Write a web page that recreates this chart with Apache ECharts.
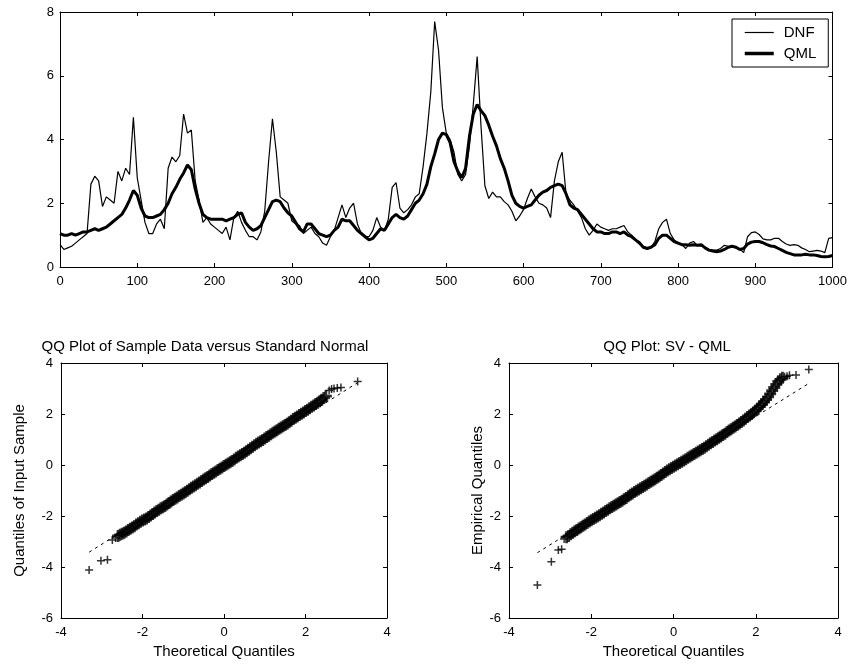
<!DOCTYPE html>
<html>
<head>
<meta charset="utf-8">
<script src="https://cdn.jsdelivr.net/npm/echarts@6/dist/echarts.min.js"></script>
<style>html,body{margin:0;padding:0;background:#fff;}#c{width:850px;height:664px;}</style>
</head>
<body>
<div id="c"></div>
<script>
// ---- Top panel: volatility series, sampled every 5 observations ----
const T_STEP = 5;
const dnf = [
0.7,0.55,0.6,0.65,0.75,0.85,0.95,1.05,2.6,2.85,2.7,1.9,2.2,2.1,2.0,3.0,2.7,3.1,2.9,4.7,
2.8,2.1,1.4,1.05,1.05,1.35,1.5,1.2,3.1,3.45,3.3,3.5,4.8,4.2,4.3,2.7,2.1,1.4,1.55,1.35,
1.25,1.15,1.05,1.25,0.85,1.55,1.75,1.4,1.15,0.95,0.95,0.85,1.1,1.75,3.3,4.65,3.6,2.2,2.1,2.0,
1.45,1.35,1.3,1.05,1.15,1.25,1.05,0.95,0.75,0.68,0.95,1.15,1.55,1.95,1.55,1.85,2.0,1.35,1.05,0.95,
0.95,1.15,1.55,1.25,1.15,1.5,2.5,2.65,1.85,1.7,1.8,1.95,2.2,2.3,3.15,4.2,5.5,7.7,6.8,5.0,
4.2,4.0,3.6,2.9,2.7,2.9,3.8,5.1,6.6,4.4,2.55,2.15,2.35,2.2,2.2,2.05,1.95,1.75,1.45,1.6,
1.8,2.15,2.45,2.2,2.0,1.95,1.85,1.55,2.7,3.3,3.6,2.3,2.1,1.95,1.75,1.55,1.2,1.0,1.15,1.35,
1.25,1.2,1.15,1.2,1.2,1.25,1.3,1.1,1.0,0.85,0.8,0.65,0.6,0.62,0.8,1.2,1.4,1.5,1.05,0.85,
0.75,0.7,0.58,0.75,0.8,0.68,0.65,0.62,0.55,0.53,0.53,0.58,0.68,0.65,0.64,0.6,0.56,0.45,0.95,1.08,
1.1,1.02,0.88,0.85,0.85,0.9,0.9,0.8,0.72,0.68,0.7,0.68,0.6,0.55,0.48,0.5,0.52,0.5,0.45,0.9,
0.92];
const qml = [
1.05,1.0,1.0,1.05,1.0,1.05,1.1,1.1,1.15,1.2,1.15,1.2,1.25,1.35,1.45,1.55,1.65,1.85,2.1,2.4,
2.25,1.85,1.6,1.55,1.55,1.6,1.65,1.8,2.0,2.3,2.5,2.75,2.95,3.2,3.05,2.45,2.0,1.65,1.55,1.5,
1.5,1.5,1.5,1.45,1.5,1.55,1.65,1.7,1.4,1.25,1.15,1.2,1.3,1.55,1.8,2.05,2.1,2.05,1.85,1.7,
1.6,1.4,1.2,1.1,1.35,1.35,1.2,1.05,1.0,0.95,1.0,1.15,1.25,1.5,1.45,1.45,1.3,1.15,1.05,0.95,
0.85,0.9,1.05,1.2,1.15,1.35,1.55,1.65,1.55,1.5,1.6,1.8,2.0,2.1,2.3,2.6,3.15,3.55,4.0,4.2,
4.15,3.9,3.3,3.0,2.8,3.1,4.1,4.8,5.1,4.9,4.75,4.45,4.1,3.8,3.4,3.1,2.7,2.25,2.0,1.9,
1.85,1.9,1.95,2.1,2.25,2.35,2.4,2.5,2.55,2.6,2.55,2.3,1.95,1.85,1.8,1.65,1.5,1.35,1.2,1.1,
1.1,1.05,1.05,1.1,1.1,1.05,1.1,1.0,0.95,0.85,0.75,0.62,0.58,0.62,0.7,0.9,1.0,1.0,0.9,0.8,
0.75,0.7,0.7,0.68,0.7,0.68,0.7,0.6,0.53,0.5,0.48,0.5,0.55,0.62,0.65,0.62,0.55,0.58,0.72,0.78,
0.8,0.8,0.76,0.7,0.66,0.64,0.58,0.52,0.46,0.42,0.38,0.38,0.38,0.4,0.38,0.38,0.36,0.33,0.32,0.33,
0.36];
const topXTicks = {min: 0, max: 1000, interval: 100};
const topYTicks = {min: 0, max: 8, interval: 2};

// ---- Bottom-left QQ plot: sample data vs standard normal ----
// tail points (drawn as isolated crosses)
const qqLeftTailX = [-3.31,-3.02,-2.86,-2.74,-2.66, 2.58,2.64,2.70,2.78,2.87,3.28];
const qqLeftTailY = [-4.12,-3.75,-3.72,-2.94,-2.86, 2.92,2.98,3.00,3.02,3.04,3.27];
// dense central band
const qqLeftX = [
-2.60,-2.55,-2.50,-2.45,-2.40,-2.35,-2.30,-2.25,-2.20,-2.15,
-2.10,-2.05,-2.00,-1.95,-1.90,-1.85,-1.80,-1.75,-1.70,-1.65,
-1.60,-1.55,-1.50,-1.45,-1.40,-1.35,-1.30,-1.25,-1.20,-1.15,
-1.10,-1.05,-1.00,-0.95,-0.90,-0.85,-0.80,-0.75,-0.70,-0.65,
-0.60,-0.55,-0.50,-0.45,-0.40,-0.35,-0.30,-0.25,-0.20,-0.15,
-0.10,-0.05,0.00,0.05,0.10,0.15,0.20,0.25,0.30,0.35,
0.40,0.45,0.50,0.55,0.60,0.65,0.70,0.75,0.80,0.85,
0.90,0.95,1.00,1.05,1.10,1.15,1.20,1.25,1.30,1.35,
1.40,1.45,1.50,1.55,1.60,1.65,1.70,1.75,1.80,1.85,
1.90,1.95,2.00,2.05,2.10,2.15,2.20,2.25,2.30,2.35,
2.40,2.45,2.50];
const qqLeftY = [
-2.78,-2.74,-2.70,-2.66,-2.61,-2.55,-2.50,-2.45,-2.40,-2.33,
-2.28,-2.23,-2.18,-2.14,-2.10,-2.04,-1.98,-1.92,-1.86,-1.80,
-1.75,-1.70,-1.66,-1.61,-1.55,-1.49,-1.43,-1.37,-1.32,-1.27,
-1.22,-1.17,-1.12,-1.07,-1.01,-0.95,-0.89,-0.84,-0.79,-0.74,
-0.69,-0.63,-0.57,-0.52,-0.47,-0.41,-0.35,-0.30,-0.25,-0.20,
-0.15,-0.10,-0.04,0.01,0.06,0.11,0.16,0.22,0.28,0.33,
0.38,0.43,0.48,0.54,0.60,0.66,0.72,0.77,0.83,0.88,
0.93,0.98,1.04,1.10,1.15,1.21,1.26,1.31,1.36,1.42,
1.47,1.52,1.57,1.62,1.68,1.74,1.80,1.85,1.90,1.96,
2.01,2.06,2.12,2.17,2.23,2.28,2.33,2.39,2.44,2.50,
2.56,2.63,2.70];
const qqLeftRef = [[-3.31,-3.42],[3.28,3.23]];

// ---- Bottom-right QQ plot: SV - QML ----
const qqRightTailX = [-3.31,-2.97,-2.80,-2.72,-2.66, 2.70,2.76,2.82,2.98,3.29];
const qqRightTailY = [-4.71,-3.79,-3.33,-3.30,-2.90, 3.46,3.48,3.52,3.53,3.75];
const qqRightX = [
-2.60,-2.55,-2.50,-2.45,-2.40,-2.35,-2.30,-2.25,-2.20,-2.15,
-2.10,-2.05,-2.00,-1.95,-1.90,-1.85,-1.80,-1.75,-1.70,-1.65,
-1.60,-1.55,-1.50,-1.45,-1.40,-1.35,-1.30,-1.25,-1.20,-1.15,
-1.10,-1.05,-1.00,-0.95,-0.90,-0.85,-0.80,-0.75,-0.70,-0.65,
-0.60,-0.55,-0.50,-0.45,-0.40,-0.35,-0.30,-0.25,-0.20,-0.15,
-0.10,-0.05,0.00,0.05,0.10,0.15,0.20,0.25,0.30,0.35,
0.40,0.45,0.50,0.55,0.60,0.65,0.70,0.75,0.80,0.85,
0.90,0.95,1.00,1.05,1.10,1.15,1.20,1.25,1.30,1.35,
1.40,1.45,1.50,1.55,1.60,1.65,1.70,1.75,1.80,1.85,
1.90,1.95,2.00,2.05,2.10,2.15,2.20,2.25,2.30,2.35,
2.40,2.45,2.50,2.55,2.60,2.65];
const qqRightY = [
-2.83,-2.78,-2.72,-2.66,-2.60,-2.55,-2.49,-2.44,-2.38,-2.33,
-2.27,-2.22,-2.17,-2.12,-2.07,-2.02,-1.97,-1.91,-1.86,-1.80,
-1.75,-1.70,-1.65,-1.60,-1.55,-1.50,-1.45,-1.40,-1.34,-1.29,
-1.23,-1.17,-1.12,-1.06,-1.01,-0.96,-0.91,-0.86,-0.81,-0.76,
-0.71,-0.66,-0.61,-0.56,-0.50,-0.45,-0.39,-0.33,-0.27,-0.22,
-0.17,-0.12,-0.07,-0.02,0.03,0.08,0.13,0.18,0.23,0.28,
0.33,0.38,0.43,0.48,0.53,0.58,0.63,0.68,0.74,0.79,
0.85,0.90,0.96,1.01,1.07,1.12,1.18,1.23,1.29,1.35,
1.40,1.46,1.51,1.57,1.63,1.69,1.75,1.81,1.88,1.94,
2.00,2.07,2.14,2.22,2.30,2.38,2.47,2.56,2.67,2.79,
2.92,3.04,3.16,3.28,3.36,3.42];
const qqRightRef = [[-3.31,-3.44],[3.29,3.20]];
const qqXTicks = {min: -4, max: 4, interval: 2};
const qqYTicks = {min: -6, max: 4, interval: 2};

// ---- Build chart ----
const FONT = 'Liberation Sans, Arial, sans-serif';
const BLACK = '#000';
function axisPair(dim, gridIndex, ticks, extra) {
  const base = Object.assign({
    gridIndex: gridIndex, type: 'value', min: ticks.min, max: ticks.max, interval: ticks.interval,
    axisLine: {show: true, onZero: false, lineStyle: {color: BLACK, width: 1}},
    axisTick: {show: true, inside: true, length: 4, lineStyle: {color: BLACK}},
    splitLine: {show: false},
    axisLabel: {color: BLACK, fontSize: 13, fontFamily: FONT, margin: 8, formatter: v => String(v)}
  }, extra || {});
  const mirror = {
    gridIndex: gridIndex, type: 'value', min: ticks.min, max: ticks.max, interval: ticks.interval,
    position: dim === 'x' ? 'top' : 'right',
    axisLine: {show: true, onZero: false, lineStyle: {color: BLACK, width: 1}},
    axisTick: {show: true, inside: true, length: 4, lineStyle: {color: BLACK}},
    splitLine: {show: false}, axisLabel: {show: false}
  };
  return [base, mirror];
}
const nameStyle = {color: BLACK, fontSize: 15, fontFamily: FONT};
const xAxes = [].concat(
  axisPair('x', 0, topXTicks),
  axisPair('x', 1, qqXTicks, {name: 'Theoretical Quantiles', nameLocation: 'middle', nameGap: 26, nameTextStyle: nameStyle}),
  axisPair('x', 2, qqXTicks, {name: 'Theoretical Quantiles', nameLocation: 'middle', nameGap: 26, nameTextStyle: nameStyle})
);
const yAxes = [].concat(
  axisPair('y', 0, topYTicks, {axisLabel: {color: BLACK, fontSize: 13, fontFamily: FONT, margin: 6}}),
  axisPair('y', 1, qqYTicks, {name: 'Quantiles of Input Sample', nameLocation: 'middle', nameGap: 34, nameTextStyle: nameStyle}),
  axisPair('y', 2, qqYTicks, {name: 'Empirical Quantiles', nameLocation: 'middle', nameGap: 24, nameTextStyle: nameStyle})
);
const plusSymbol = 'path://M0,5L10,5M5,0L5,10';
function zip(xs, ys) { return xs.map((x, i) => [x, ys[i]]); }
function bandSeries(axisIdx, xs, ys) {
  return {type: 'scatter', xAxisIndex: axisIdx, yAxisIndex: axisIdx, symbol: plusSymbol, symbolSize: 12, z: 2,
    itemStyle: {color: 'rgba(0,0,0,0)', borderColor: BLACK, borderWidth: 2.8}, data: zip(xs, ys)};
}
function tailSeries(axisIdx, xs, ys) {
  return {type: 'scatter', xAxisIndex: axisIdx, yAxisIndex: axisIdx, symbol: plusSymbol, symbolSize: 8, z: 2,
    itemStyle: {color: 'rgba(0,0,0,0)', borderColor: BLACK, borderWidth: 1.5}, data: zip(xs, ys)};
}

const option = {
  animation: false,
  backgroundColor: '#fff',
  textStyle: {fontFamily: FONT},
  title: [
    {text: 'QQ Plot of Sample Data versus Standard Normal', left: 200, top: 334, textAlign: 'center',
     textStyle: {color: BLACK, fontSize: 15, fontWeight: 'normal', fontFamily: FONT}},
    {text: 'QQ Plot: SV - QML', left: 662, top: 334, textAlign: 'center',
     textStyle: {color: BLACK, fontSize: 15, fontWeight: 'normal', fontFamily: FONT}}
  ],
  legend: {
    data: [
      {name: 'DNF', lineStyle: {width: 1.2, color: BLACK}},
      {name: 'QML', lineStyle: {width: 3.5, color: BLACK}}
    ],
    orient: 'vertical', left: 732, top: 19,
    padding: [6, 12, 6, 11], itemGap: 6, itemWidth: 29, itemHeight: 14,
    borderColor: BLACK, borderWidth: 1, backgroundColor: '#fff',
    itemStyle: {color: 'rgba(0,0,0,0)', borderColor: 'rgba(0,0,0,0)', borderWidth: 0},
    textStyle: {color: BLACK, fontSize: 15, fontFamily: FONT, padding: [0, 0, 0, 5]}
  },
  grid: [
    {left: 60, top: 12, width: 778, height: 255, show: false},
    {left: 61, top: 363, width: 326, height: 255, show: false},
    {left: 509, top: 363, width: 329, height: 255, show: false}
  ],
  xAxis: xAxes,
  yAxis: yAxes,
  series: [
    {name: 'DNF', type: 'line', xAxisIndex: 0, yAxisIndex: 0, symbol: 'none',
     lineStyle: {color: BLACK, width: 1.2}, itemStyle: {color: BLACK},
     data: dnf.map((v, i) => [i * T_STEP, v])},
    {name: 'QML', type: 'line', xAxisIndex: 0, yAxisIndex: 0, symbol: 'none',
     lineStyle: {color: BLACK, width: 3}, itemStyle: {color: BLACK},
     data: qml.map((v, i) => [i * T_STEP, v])},
    {type: 'line', xAxisIndex: 2, yAxisIndex: 2, symbol: 'none', z: 1,
     lineStyle: {color: BLACK, width: 1, type: [3, 4]}, data: qqLeftRef},
    bandSeries(2, qqLeftX, qqLeftY),
    tailSeries(2, qqLeftTailX, qqLeftTailY),
    {type: 'line', xAxisIndex: 4, yAxisIndex: 4, symbol: 'none', z: 1,
     lineStyle: {color: BLACK, width: 1, type: [3, 4]}, data: qqRightRef},
    bandSeries(4, qqRightX, qqRightY),
    tailSeries(4, qqRightTailX, qqRightTailY)
  ]
};
const chart = echarts.init(document.getElementById('c'), null, {renderer: 'canvas'});
chart.setOption(option);
</script>
</body>
</html>
